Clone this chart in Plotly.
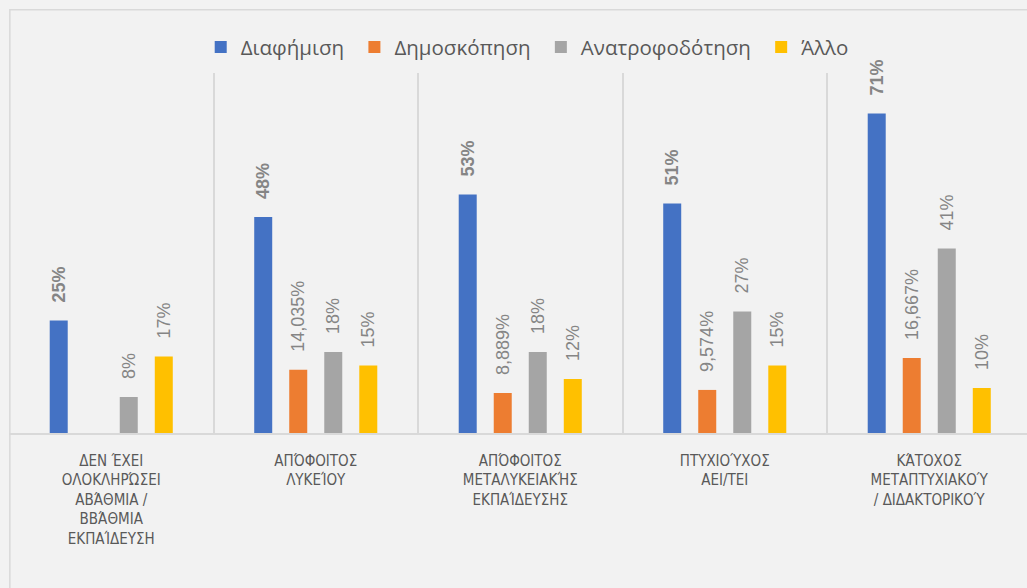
import plotly.graph_objects as go

categories = [
    "ΔΕΝ ΈΧΕΙ<br>ΟΛΟΚΛΗΡΏΣΕΙ<br>ΑΒΆΘΜΙΑ /<br>ΒΒΆΘΜΙΑ<br>ΕΚΠΑΊΔΕΥΣΗ",
    "ΑΠΌΦΟΙΤΟΣ<br>ΛΥΚΕΊΟΥ",
    "ΑΠΌΦΟΙΤΟΣ<br>ΜΕΤΑΛΥΚΕΙΑΚΉΣ<br>ΕΚΠΑΊΔΕΥΣΗΣ",
    "ΠΤΥΧΙΟΎΧΟΣ<br>ΑΕΙ/ΤΕΙ",
    "ΚΆΤΟΧΟΣ<br>ΜΕΤΑΠΤΥΧΙΑΚΟΎ<br>/ ΔΙΔΑΚΤΟΡΙΚΟΎ",
]
series_names = ["Διαφήμιση", "Δημοσκόπηση", "Ανατροφοδότηση", "Άλλο"]
diafimisi = [25, 48, 53, 51, 71]
dimoskopisi = [None, 14.035, 8.889, 9.574, 16.667]
anatrofodotisi = [8, 18, 18, 27, 41]
allo = [17, 15, 12, 15, 10]
colors = ["#4472C4", "#ED7D31", "#A5A5A5", "#FFC000"]

series_values = [diafimisi, dimoskopisi, anatrofodotisi, allo]


def fmt(v):
    if v is None:
        return ""
    if float(v).is_integer():
        s = f"{int(v)}%"
    else:
        s = f"{v:.3f}".replace(".", ",") + "%"
    return "\u00a0\u00a0\u00a0" + s


fig = go.Figure()
for i, (name, vals, col) in enumerate(zip(series_names, series_values, colors)):
    fig.add_trace(go.Bar(
        name=name + "\u00a0",
        x=categories,
        y=vals,
        marker=dict(color=col, line=dict(width=0)),
        text=[fmt(v) for v in vals],
        textposition="outside",
        textangle=-90,
        constraintext="none",
        cliponaxis=False,
        textfont=dict(family="Liberation Sans, Arial, sans-serif",
                      size=18, color="#858585",
                      weight="bold" if i == 0 else "normal"),
        hoverinfo="skip",
    ))

fig.update_layout(
    width=1027, height=588,
    margin=dict(l=9, r=0, t=73, b=155),
    paper_bgcolor="#f2f2f2",
    plot_bgcolor="#f2f2f2",
    barmode="group",
    bargap=0.315,
    bargroupgap=0.486,
    showlegend=True,
    legend=dict(orientation="h", x=0.512, xanchor="center", y=1.072, yanchor="middle",
                font=dict(family="Open Sans, sans-serif", size=20.5, color="#595959"),
                itemwidth=30, traceorder="normal", bgcolor="rgba(0,0,0,0)"),
    xaxis=dict(
        range=[-0.5, -0.5 + 1018 / 204.5],
        tickson="boundaries",
        showgrid=True, gridcolor="#d9d9d9", gridwidth=1.5,
        showline=True, linecolor="#d9d9d9", linewidth=1.5,
        ticks="",
        ticklabelstandoff=13,
        tickfont=dict(family="DejaVu Sans Condensed, Liberation Sans, sans-serif",
                      size=15, color="#595959"),
        fixedrange=True,
    ),
    yaxis=dict(range=[0, 80], visible=False, showgrid=False, zeroline=False, fixedrange=True),
    shapes=[dict(type="rect", xref="paper", yref="paper",
                 x0=0.0008, x1=1.05, y0=-0.6, y1=1.176,
                 line=dict(color="#d9d9d9", width=1.5), fillcolor="rgba(0,0,0,0)",
                 layer="below")],
)

fig.write_html("out.html", config={"displayModeBar": False},
               post_script="document.body.style.margin='0px';")
